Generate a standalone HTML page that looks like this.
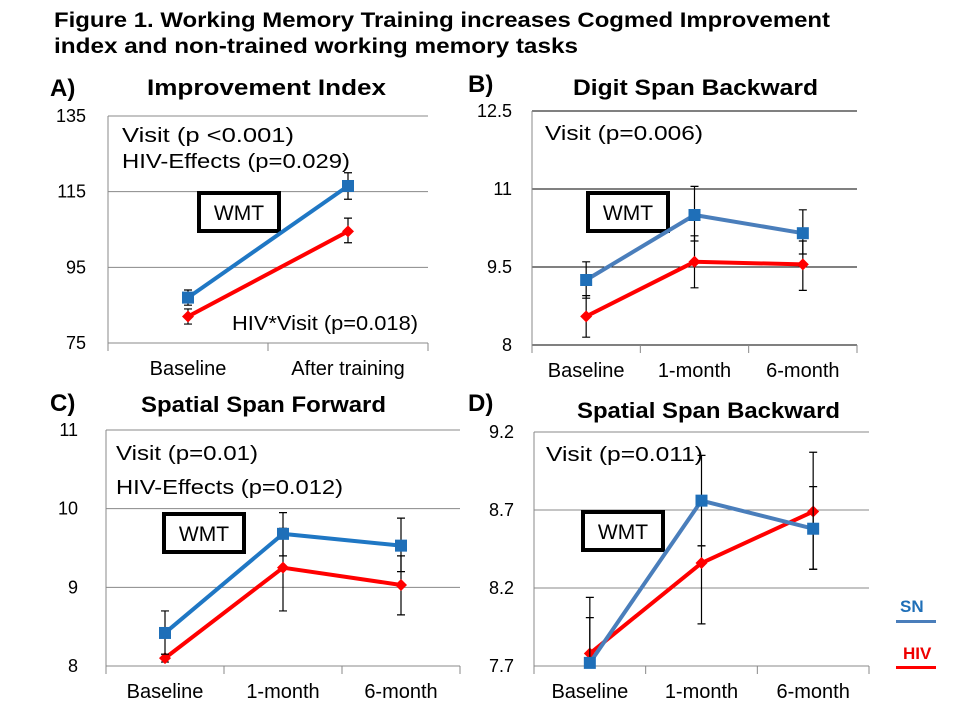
<!DOCTYPE html>
<html><head><meta charset="utf-8">
<style>
body{margin:0;background:#fff;}
svg{display:block;font-family:"Liberation Sans",sans-serif;}
</style></head>
<body>
<svg id="fig" width="960" height="720" viewBox="0 0 960 720">
<text x="54" y="27" font-size="21" font-weight="bold" textLength="776" lengthAdjust="spacingAndGlyphs">Figure 1.  Working Memory Training increases Cogmed Improvement</text>
<text x="54" y="53" font-size="21" font-weight="bold" textLength="524" lengthAdjust="spacingAndGlyphs">index and non-trained working memory tasks</text>
<g id="legend">
<text x="900" y="612" font-size="17" font-weight="bold" fill="#1f6fb8">SN</text>
<rect x="896" y="620" width="40" height="3" fill="#4a7ebb"/>
<text x="903" y="659" font-size="17" font-weight="bold" fill="#e00">HIV</text>
<rect x="896" y="666" width="40" height="3" fill="#f00"/>
</g>
</svg>
<script>
// Panel A
const catsA=["Baseline","After training"];
const snA=[87,116.5], hivA=[82,104.5];
const snErrA=[[85,89],[113,120]], hivErrA=[[80,84],[101.5,108]];
const ticksA=[75,95,115,135];
// Panel B
const catsB=["Baseline","1-month","6-month"];
const snB=[9.25,10.5,10.15], hivB=[8.55,9.6,9.55];
const snErrB=[[8.9,9.6],[10.0,11.05],[9.75,10.6]], hivErrB=[[8.15,8.95],[9.1,10.1],[9.05,10.0]];
const ticksB=[8,9.5,11,12.5];
// Panel C
const catsC=["Baseline","1-month","6-month"];
const snC=[8.42,9.68,9.53], hivC=[8.1,9.25,9.03];
const snErrC=[[8.15,8.7],[9.4,9.95],[9.2,9.88]], hivErrC=[[8.05,8.15],[8.7,9.75],[8.65,9.4]];
const ticksC=[8,9,10,11];
// Panel D
const catsD=["Baseline","1-month","6-month"];
const snD=[7.72,8.76,8.58], hivD=[7.78,8.36,8.69];
const snErrD=[[7.7,8.01],[8.47,9.05],[8.32,8.85]], hivErrD=[[7.7,8.14],[7.97,8.47],[8.32,9.07]];
const ticksD=[7.7,8.2,8.7,9.2];

const NS="http://www.w3.org/2000/svg";
const svg=document.getElementById('fig');
function mk(tag,attrs,parent){const e=document.createElementNS(NS,tag);for(const k in attrs)e.setAttribute(k,attrs[k]);(parent||svg).appendChild(e);return e;}

function panel(o){
  const g=mk('g',{});
  
  
  const ymin=o.ticks[0], ymax=o.ticks[o.ticks.length-1];
  const Y=v=>o.y1-(v-ymin)/(ymax-ymin)*(o.y1-o.y0);
  const n=o.cats.length, w=(o.x1-o.x0)/n;
  const X=i=>o.x0+w*(i+0.5);
  const lab=mk('text',{x:o.lx,y:o.ly,'font-size':24,'font-weight':'bold'},g);lab.textContent=o.label;
  
  
  const t=mk('text',{x:o.tx[0],y:o.ty,'font-size':22,'font-weight':'bold',textLength:o.tx[1]-o.tx[0],lengthAdjust:'spacingAndGlyphs'},g);t.textContent=o.title;
  
  
  o.ticks.forEach(v=>{
    const ln=mk('line',{x1:o.x0,x2:o.x1,y1:Y(v),y2:Y(v),stroke:o.gridColor,'stroke-width':1},g);
    
    
    const tl=mk('text',{x:o.x0-o.tickGap,y:Y(v)+6,'font-size':18,'text-anchor':'end'},g);tl.textContent=String(v);
    
    
  });
  const ax=mk('line',{x1:o.x0,x2:o.x0,y1:Y(ymax),y2:Y(ymin)+8,stroke:'#888'},g);
  
  
  for(let i=1;i<=n;i++){const tk=mk('line',{x1:o.x0+w*i,x2:o.x0+w*i,y1:Y(ymin),y2:Y(ymin)+8,stroke:'#888'},g);
    
    }
  o.cats.forEach((c,i)=>{const tl=mk('text',{x:X(i),y:Y(ymin)+32,'font-size':20,'text-anchor':'middle'},g);tl.textContent=c;
    
    });
  o.notes.forEach(nt=>{const tt=mk('text',{x:nt[0],y:nt[1],'font-size':20,textLength:nt[3]-nt[0],lengthAdjust:'spacingAndGlyphs'},g);tt.textContent=nt[2];
    
    });
  const b=mk('rect',{x:o.wmt[0],y:o.wmt[1],width:80,height:38,fill:'#fff',stroke:'#000','stroke-width':4},g);
  
  
  const bt=mk('text',{x:o.wmt[0]+40,y:o.wmt[1]+27,'font-size':21,'text-anchor':'middle'},g);bt.textContent='WMT';
  
  
  [[o.hiv,o.hivErr,'#f00','hiv'],[o.sn,o.snErr,o.snColor,'sn']].forEach(([vals,errs,col,nm])=>{
    errs.forEach((e,i)=>{
      const el=mk('path',{d:`M${X(i)},${Y(e[0])}V${Y(e[1])}M${X(i)-4},${Y(e[0])}h8M${X(i)-4},${Y(e[1])}h8`,stroke:'#000','stroke-width':1.2,fill:'none'},g);
      
      
    });
    const pl=mk('polyline',{points:vals.map((v,i)=>X(i)+','+Y(v)).join(' '),fill:'none',stroke:col,'stroke-width':4},g);
    
    
    vals.forEach((v,i)=>{
      let m;
      if(nm==='sn') m=mk('rect',{x:X(i)-6,y:Y(v)-6,width:12,height:12,fill:'#1f6fb8'},g);
      else m=mk('path',{d:`M${X(i)},${Y(v)-6}l6,6l-6,6l-6,-6z`,fill:'#f00'},g);
      
      
    });
  });
}
panel({name:'panel-a',label:'A)',lx:50,ly:96,title:'Improvement Index',tx:[147,386],ty:95,x0:108,x1:428,y0:116,y1:343,ticks:ticksA,cats:catsA,sn:snA,hiv:hivA,snErr:snErrA,hivErr:hivErrA,gridColor:'#888',tickGap:22,snColor:'#1f77c4',
  notes:[[122,142,'Visit (p <0.001)',294],[122,168,'HIV-Effects (p=0.029)',350],[232,330,'HIV*Visit (p=0.018)',418]],wmt:[199,193]});
panel({name:'panel-b',label:'B)',lx:468,ly:92,title:'Digit Span Backward',tx:[573,818],ty:95,x0:532,x1:857,y0:111,y1:345,ticks:ticksB,cats:catsB,sn:snB,hiv:hivB,snErr:snErrB,hivErr:hivErrB,gridColor:'#000',tickGap:20,snColor:'#4a7ebb',
  notes:[[545,140,'Visit (p=0.006)',703]],wmt:[588,193]});
panel({name:'panel-c',label:'C)',lx:50,ly:411,title:'Spatial Span Forward',tx:[141,386],ty:412,x0:106,x1:460,y0:430,y1:666,ticks:ticksC,cats:catsC,sn:snC,hiv:hivC,snErr:snErrC,hivErr:hivErrC,gridColor:'#888',tickGap:28,snColor:'#1f77c4',
  notes:[[116,460,'Visit (p=0.01)',258],[116,494,'HIV-Effects (p=0.012)',343]],wmt:[164,514]});
panel({name:'panel-d',label:'D)',lx:468,ly:411,title:'Spatial Span Backward',tx:[577,840],ty:418,x0:534,x1:869,y0:432,y1:666,ticks:ticksD,cats:catsD,sn:snD,hiv:hivD,snErr:snErrD,hivErr:hivErrD,gridColor:'#888',tickGap:20,snColor:'#4a7ebb',
  notes:[[546,461,'Visit (p=0.011)',703]],wmt:[583,512]});
</script>
</body></html>
